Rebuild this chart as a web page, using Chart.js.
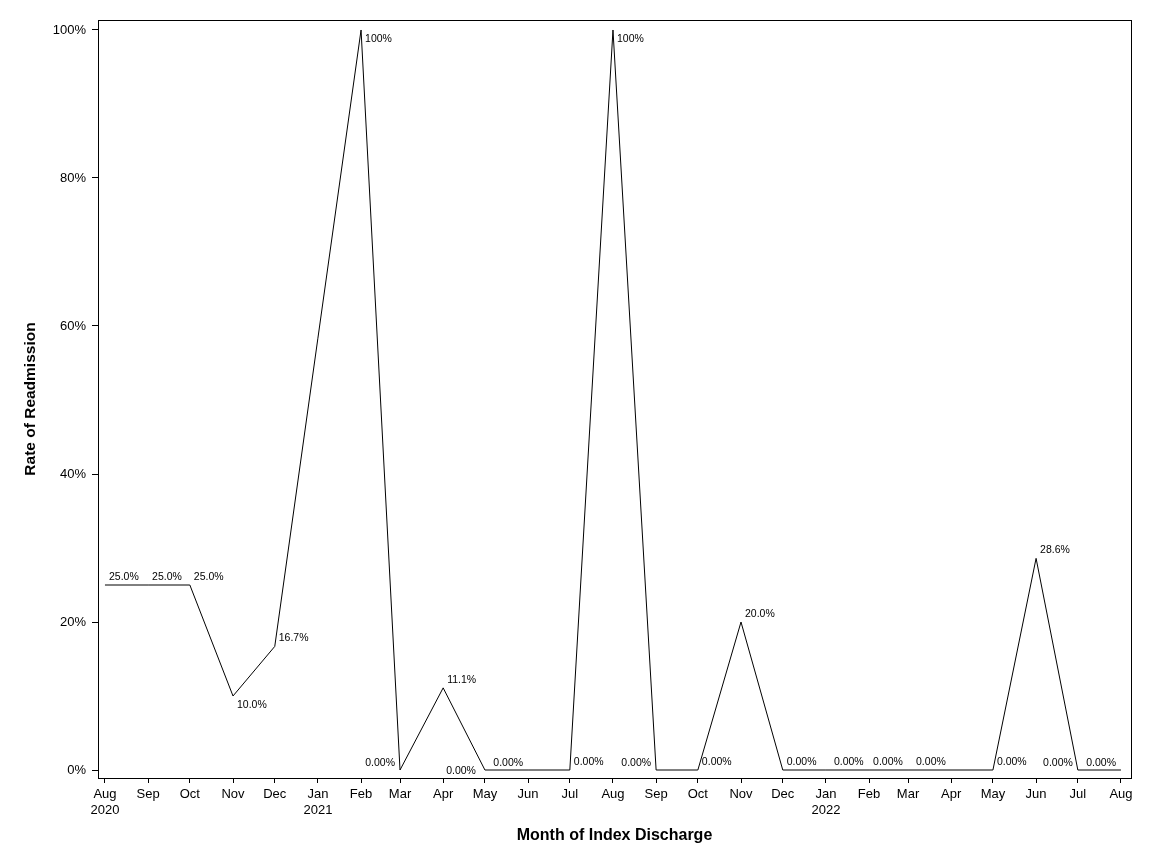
<!doctype html>
<html>
<head>
<meta charset="utf-8">
<script src="https://cdn.jsdelivr.net/npm/chart.js@4"></script>
<style>
  html, body { margin: 0; padding: 0; background: #fff; }
  #wrap { width: 1152px; height: 864px; }
</style>
<script>
// months of index discharge (first of each month)
const months = ['2020-08','2020-09','2020-10','2020-11','2020-12','2021-01','2021-02','2021-03',
                '2021-04','2021-05','2021-06','2021-07','2021-08','2021-09','2021-10','2021-11',
                '2021-12','2022-01','2022-02','2022-03','2022-04','2022-05','2022-06','2022-07','2022-08'];
// rate of readmission, percent (null = no discharges that month)
const rates = [25, 25, 25, 10, 16.7, null, 100, 0, 11.1, 0, 0, 0, 100, 0, 0, 20,
               0, 0, 0, 0, null, 0, 28.6, 0, 0];
// where each point label sits relative to its point
const labelPos = ['ne','ne','ne','se','ne',null,'se','nw','ne','w','nw','ne','se','nw','ne','ne',
                  'ne','ne2','ne','ne2',null,'ne','ne','nw','nw'];
const yTicks = [0, 20, 40, 60, 80, 100];
const monthNames = ['Jan','Feb','Mar','Apr','May','Jun','Jul','Aug','Sep','Oct','Nov','Dec'];

const FONT = '"Liberation Sans", Arial, sans-serif';

function dayOf(m) {
  const [y, mo] = m.split('-').map(Number);
  return Date.UTC(y, mo - 1, 1) / 86400000;
}
function fmtPct(v) {
  return v.toPrecision(3) + '%';
}

// draws the box round the plot area
const frame = {
  id: 'frame',
  afterDraw(chart) {
    const a = chart.chartArea, ctx = chart.ctx;
    ctx.save();
    ctx.strokeStyle = '#000';
    ctx.lineWidth = 1;
    ctx.strokeRect(Math.round(a.left) + 0.5, Math.round(a.top) + 0.5,
                   Math.round(a.right - a.left), Math.round(a.bottom - a.top));
    ctx.restore();
  }
};

// point labels
const pointLabels = {
  id: 'pointLabels',
  afterDatasetsDraw(chart) {
    const ctx = chart.ctx;
    const meta = chart.getDatasetMeta(0);
    const off = { ne: [4, -8, 'left'], ne2: [8, -8, 'left'], se: [4, 9, 'left'],
                  nw: [-5, -7, 'right'], w: [-9, 1, 'right'] };
    ctx.save();
    ctx.font = '10.5px ' + FONT;
    ctx.fillStyle = '#000';
    ctx.textBaseline = 'middle';
    meta.data.forEach((pt, i) => {
      const v = rates[i];
      if (v === null || !labelPos[i]) return;
      const o = off[labelPos[i]];
      ctx.textAlign = o[2];
      ctx.fillText(fmtPct(v), pt.x + o[0], pt.y + o[1]);
    });
    ctx.restore();
  }
};

function start() {
  const xs = months.map(dayOf);
  const data = xs.map((x, i) => ({ x: x, y: rates[i] }));
  const ctx = document.getElementById('chart').getContext('2d');
  new Chart(ctx, {
    type: 'line',
    data: {
      datasets: [{
        data: data,
        borderColor: '#000',
        borderWidth: 1,
        pointRadius: 0,
        tension: 0,
        spanGaps: true,
        fill: false
      }]
    },
    options: {
      responsive: false,
      animation: false,
      events: [],
      layout: { padding: { left: 0, top: 20, right: 21, bottom: 0 } },
      plugins: { legend: { display: false }, tooltip: { enabled: false } },
      scales: {
        x: {
          type: 'linear',
          min: xs[0] - 5,
          max: xs[xs.length - 1] + 7.2,
          afterBuildTicks: s => { s.ticks = xs.map(v => ({ value: v })); },
          afterFit: s => { s.height = 86; },
          grid: { display: true, drawOnChartArea: false, drawTicks: true, tickLength: 5, color: '#000' },
          border: { display: true, color: '#000' },
          ticks: {
            autoSkip: false,
            maxRotation: 0,
            padding: 4,
            color: '#000',
            font: { family: FONT, size: 13 },
            callback: (value, index) => {
              const m = months[index];
              const [y, mo] = m.split('-').map(Number);
              const name = monthNames[mo - 1];
              return (index === 0 || mo === 1) ? [name, String(y)] : name;
            }
          },
          title: {
            display: true,
            text: 'Month of Index Discharge',
            color: '#000',
            font: { family: FONT, size: 16, weight: 'bold' },
            padding: { top: 0, bottom: 19 }
          }
        },
        y: {
          min: -1.08,
          max: 101.35,
          afterBuildTicks: s => { s.ticks = yTicks.map(v => ({ value: v })); },
          afterFit: s => { s.width = 98; },
          grid: { display: true, drawOnChartArea: false, drawTicks: true, tickLength: 6, color: '#000' },
          border: { display: true, color: '#000' },
          ticks: {
            padding: 6,
            color: '#000',
            font: { family: FONT, size: 13 },
            callback: v => v + '%'
          },
          title: {
            display: true,
            text: 'Rate of Readmission',
            color: '#000',
            font: { family: FONT, size: 15.5, weight: 'bold' },
            padding: { top: 21, bottom: 0 }
          }
        }
      }
    },
    plugins: [pointLabels, frame]
  });
}
</script>
</head>
<body onload="start()">
<div id="wrap"><canvas id="chart" width="1152" height="864"></canvas></div>
</body>
</html>
